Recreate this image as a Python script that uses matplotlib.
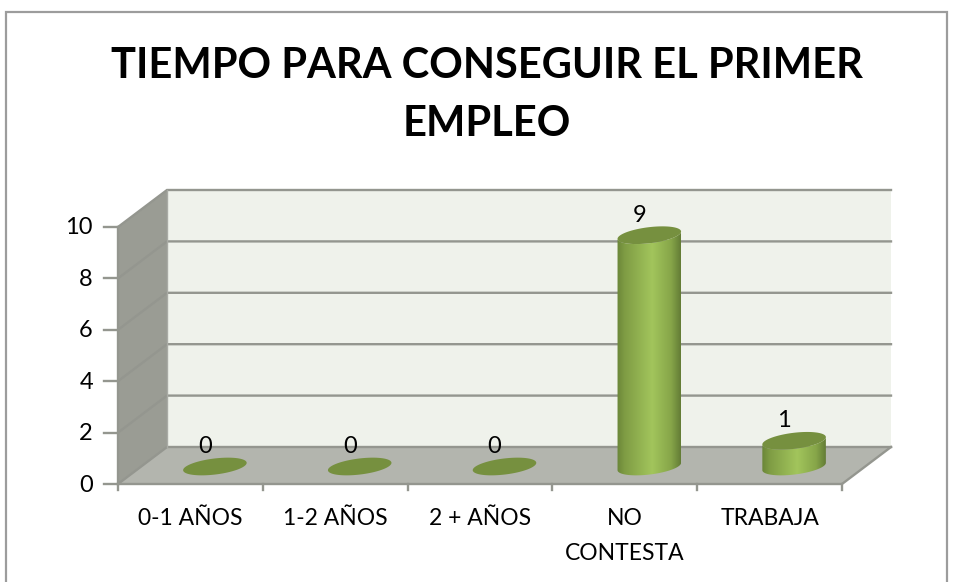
import numpy as np
import matplotlib
matplotlib.use("Agg")
import matplotlib.pyplot as plt
from matplotlib.patches import Polygon, Rectangle
from matplotlib.colors import LinearSegmentedColormap

categories = ["0-1 AÑOS", "1-2 AÑOS", "2 + AÑOS", "NO\nCONTESTA", "TRABAJA"]
values = [0, 0, 0, 9, 1]
yticks = [0, 2, 4, 6, 8, 10]
title = "TIEMPO PARA CONSEGUIR EL PRIMER\nEMPLEO"

W, H = 956, 582
plt.rcParams['font.family'] = ['Lato', 'DejaVu Sans']
fig = plt.figure(figsize=(W/100, H/100), dpi=100, facecolor='white')
ax = fig.add_axes([0, 0, 1, 1])

# scales: front plane x: 118..842 px for 5 categories, y: 484..227 px for 0..10
X0, X1, Y0, Y10 = 118.0, 842.0, 484.0, 227.0
sx = (X1 - X0) / len(categories)
sy = (Y0 - Y10) / 10.0
ax.set_xlim(-X0 / sx, (W - X0) / sx)
ax.set_ylim(-(H - Y0) / sy, Y0 / sy)
ax.axis('off')

DX, DY = 49 / sx, 37 / sy  # depth offset
xn = len(categories)
ymax = yticks[-1]
WALL, SIDE, FLOOR, GRID = '#eff2eb', '#9a9c94', '#b3b5ae', '#94968f'

ax.add_patch(Polygon([(DX, DY), (xn + DX, DY), (xn + DX, ymax + DY), (DX, ymax + DY)], fc=WALL, ec='none', zorder=1))
ax.add_patch(Polygon([(0, 0), (DX, DY), (DX, ymax + DY), (0, ymax)], fc=SIDE, ec='none', zorder=1))
ax.add_patch(Polygon([(0, 0), (xn, 0), (xn + DX, DY), (DX, DY)], fc=FLOOR, ec='none', zorder=1))

for t in yticks:
    ax.plot([0, DX, xn + DX], [t, t + DY, t + DY], color=GRID, lw=1.7, zorder=2, solid_joinstyle='miter')
    ax.plot([-14 / sx, 0], [t, t], color=GRID, lw=1.7, zorder=2)
    ax.text(-25 / sx, t - 1 / sy, str(t), ha='right', va='center', fontsize=17, color='black', zorder=6)
ax.plot([0, 0], [0, ymax], color=GRID, lw=1.7, zorder=2)
ax.plot([DX, DX], [0 + DY, ymax + DY], color='#a9aba5', lw=1, zorder=2)
ax.plot([0, xn, xn + DX], [0, 0, DY], color=GRID, lw=1.7, zorder=2)
for i in range(xn + 1):
    ax.plot([i, i], [0, -6 / sy], color=GRID, lw=1.7, zorder=2)

cmap = LinearSegmentedColormap.from_list('cyl', [
    (0, '#6a8638'), (0.12, '#7f9c44'), (0.55, '#a2c55c'), (0.85, '#86a549'), (1, '#637c36')])
grad = np.linspace(0, 1, 256).reshape(1, -1)

A, B, ROT = 32.0, 8.0, np.deg2rad(7)

def ell(cx, cy, t):
    px = A * np.cos(t) * np.cos(ROT) - B * np.sin(t) * np.sin(ROT)
    py = A * np.cos(t) * np.sin(ROT) + B * np.sin(t) * np.cos(ROT)
    return cx + px / sx, cy + py / sy

tt = np.linspace(0, 2 * np.pi, 120)
for i, v in enumerate(values):
    cx = i + 0.5 + DX / 2
    cy = DY / 2 - 1 / sy
    if v > 0:
        t_low = np.linspace(np.pi, 2 * np.pi, 60)
        lx, ly = ell(cx, cy, t_low)
        ux, uy = ell(cx, cy + v, t_low[::-1])
        verts = np.column_stack([np.r_[lx, ux], np.r_[ly, uy]])
        patch = Polygon(verts, closed=True, fc='none', ec='none', transform=ax.transData)
        ax.add_patch(patch)
        im = ax.imshow(grad, cmap=cmap, aspect='auto', zorder=3,
                       extent=[cx - A / sx, cx + A / sx, cy - 12 / sy, cy + v + 12 / sy])
        im.set_clip_path(patch)
    ex, ey = ell(cx, cy + v, tt)
    ax.add_patch(Polygon(np.column_stack([ex, ey]), fc='#76903f', ec='none', zorder=4))
    ax.text(cx - 10 / sx, cy + v + 20 / sy, str(v), ha='center', va='center', fontsize=17, color='black', zorder=6)

ax.set_xlim(-X0 / sx, (W - X0) / sx)
ax.set_ylim(-(H - Y0) / sy, Y0 / sy)

for i, c in enumerate(categories):
    ax.text(i + 0.5, -(508 - Y0) / sy, c, ha='center', va='top', fontsize=16.5, linespacing=1.8, color='black', zorder=6)

fig.text(487 / W, 1 - 47 / H, title, ha='center', va='top', fontsize=30, fontweight='bold',
         linespacing=1.66, color='black')

# chart frame, continues past the bottom edge of the picture
fig.add_artist(Rectangle((5.5 / W, -0.02), (947 - 5.5) / W, 1 - 11.5 / H + 0.02, transform=fig.transFigure,
                         fc='none', ec='#9c9c9c', lw=1.6))
fig.savefig('out.png', dpi=100)
